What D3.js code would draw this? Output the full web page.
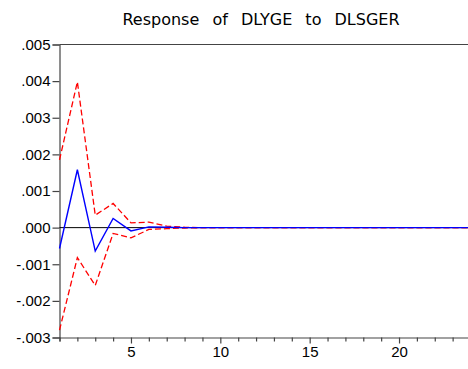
<!DOCTYPE html>
<html>
<head>
<meta charset="utf-8">
<script src="https://cdn.jsdelivr.net/npm/d3@7"></script>
<style>
  html, body { margin: 0; padding: 0; background: #fff; }
  svg { display: block; }
</style>
</head>
<body>
<svg id="chart" width="468" height="369"></svg>
<script>
// Impulse response of DLYGE to a shock in DLSGER, with ±2 S.E. bands
const periods = d3.range(1, 25);
const response = [-0.00057, 0.00158, -0.00064, 0.00025, -0.00009, 0.00002, 0.00001, 0, 0, 0, 0, 0,
                  0, 0, 0, 0, 0, 0, 0, 0, 0, 0, 0, 0];
const upperBand = [0.00185, 0.00398, 0.00034, 0.00066, 0.00013, 0.00015, 0.00004, 0.00001, 0, 0, 0, 0,
                   0, 0, 0, 0, 0, 0, 0, 0, 0, 0, 0, 0];
const lowerBand = [-0.0028, -0.00082, -0.00158, -0.00016, -0.00028, -0.00005, -0.00003, -0.00001, 0, 0, 0, 0,
                   0, 0, 0, 0, 0, 0, 0, 0, 0, 0, 0, 0];
const yTicks = [-0.003, -0.002, -0.001, 0, 0.001, 0.002, 0.003, 0.004, 0.005];
const xMajorTicks = [5, 10, 15, 20];
const title = "Response of DLYGE to DLSGER";

const svg = d3.select("#chart");
const plot = { left: 59.5, right: 470.5, top: 44.5, bottom: 337.5 };

const x = d3.scaleLinear().domain([1, 24]).range([plot.left, plot.right]);
const y = d3.scaleLinear().domain([-0.003, 0.005]).range([plot.bottom, plot.top]);

// ".005" / "-.003" style labels with a plain hyphen
const fmt = v => {
  const s = Math.abs(v).toFixed(3).replace(/^0\./, ".");
  return (v < 0 ? "-" : "") + s;
};

// title
svg.append("text")
  .attr("x", (plot.left + plot.right) / 2 - 4)
  .attr("y", 25)
  .attr("text-anchor", "middle")
  .attr("font-family", "DejaVu Sans, Verdana, sans-serif")
  .attr("font-size", 16)
  .attr("word-spacing", 8)
  .attr("fill", "#000")
  .text(title);

// left axis
const yAxis = d3.axisLeft(y).tickValues(yTicks).tickFormat(fmt).tickSize(7).tickPadding(2);
const gy = svg.append("g").attr("transform", `translate(${plot.left},0)`).call(yAxis);
gy.select(".domain").attr("stroke", "#444").attr("stroke-width", 1.2);
gy.selectAll(".tick line").attr("stroke", "#444").attr("stroke-width", 1.2);
gy.selectAll(".tick text")
  .attr("font-family", "Liberation Sans, Arial, sans-serif")
  .attr("font-size", 15).attr("fill", "#000");

// bottom axis: minor tick at every period, labels at 5, 10, 15, 20
const xAxis = d3.axisBottom(x).tickValues(periods).tickSize(4).tickPadding(5)
  .tickFormat(d => xMajorTicks.includes(d) ? d : "");
const gx = svg.append("g").attr("transform", `translate(0,${plot.bottom})`).call(xAxis);
gx.select(".domain").attr("stroke", "#444").attr("stroke-width", 1.2);
gx.selectAll(".tick line").attr("stroke", "#444").attr("stroke-width", 1.2);
gx.selectAll(".tick").filter(d => xMajorTicks.includes(d)).select("line").attr("y2", 6);
gx.selectAll(".tick text")
  .attr("font-family", "Liberation Sans, Arial, sans-serif")
  .attr("font-size", 15).attr("fill", "#000");

// top frame line
svg.append("line")
  .attr("x1", plot.left).attr("x2", plot.right)
  .attr("y1", plot.top).attr("y2", plot.top)
  .attr("stroke", "#444").attr("stroke-width", 1.2);

// zero line
svg.append("line")
  .attr("x1", plot.left).attr("x2", plot.right)
  .attr("y1", y(0)).attr("y2", y(0))
  .attr("stroke", "#000").attr("stroke-width", 1);

const line = d3.line().x((d, i) => x(periods[i])).y(d => y(d));

svg.append("path").datum(upperBand).attr("d", line)
  .attr("fill", "none").attr("stroke", "#ff0000").attr("stroke-width", 1.3)
  .attr("stroke-dasharray", "6,3");
svg.append("path").datum(lowerBand).attr("d", line)
  .attr("fill", "none").attr("stroke", "#ff0000").attr("stroke-width", 1.3)
  .attr("stroke-dasharray", "6,3");
svg.append("path").datum(response).attr("d", line)
  .attr("fill", "none").attr("stroke", "#0000ff").attr("stroke-width", 1.4);
</script>
</body>
</html>
